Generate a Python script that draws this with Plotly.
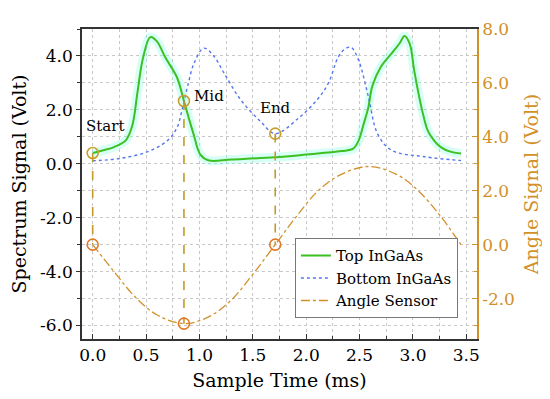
import plotly.graph_objects as go

# ---- data ----
top_t = [0.0, 0.10, 0.20, 0.31, 0.37, 0.42, 0.47, 0.54, 0.60, 0.68, 0.79, 0.855, 0.90, 0.945, 1.01, 1.09, 1.30, 1.71, 2.00, 2.33, 2.44, 2.49, 2.54, 2.58, 2.62, 2.70, 2.81, 2.88, 2.92, 2.97, 3.01, 3.05, 3.10, 3.14, 3.20, 3.26, 3.35, 3.45]
top_v = [0.40, 0.50, 0.62, 0.87, 1.40, 2.66, 3.90, 4.70, 4.55, 3.95, 3.20, 2.33, 1.70, 1.10, 0.33, 0.12, 0.16, 0.24, 0.34, 0.47, 0.56, 0.85, 1.50, 2.05, 2.89, 3.60, 4.14, 4.50, 4.74, 4.45, 3.50, 2.65, 1.75, 1.22, 0.85, 0.62, 0.45, 0.38]

bot_t = [0.0, 0.26, 0.51, 0.70, 0.79, 0.84, 0.89, 0.95, 1.04, 1.13, 1.23, 1.38, 1.57, 1.71, 1.93, 2.11, 2.21, 2.30, 2.36, 2.42, 2.49, 2.58, 2.67, 2.80, 3.11, 3.45]
bot_v = [0.11, 0.20, 0.44, 0.86, 1.34, 2.05, 2.89, 3.73, 4.29, 4.02, 3.37, 2.41, 1.58, 1.12, 1.70, 2.41, 3.01, 3.96, 4.25, 4.32, 3.85, 2.53, 1.10, 0.50, 0.26, 0.12]

ang_t = [0.0, 0.2, 0.4, 0.6, 0.86, 1.1, 1.3, 1.5, 1.71, 1.9, 2.1, 2.3, 2.58, 2.85, 3.05, 3.25, 3.45]
ang_v = [0.0, -1.0, -1.95, -2.6, -2.93, -2.65, -2.05, -1.1, 0.0, 1.0, 1.95, 2.55, 2.90, 2.60, 2.00, 1.10, 0.0]

evt_names = ["Start", "Mid", "End"]
evt_t = [0.0, 0.855, 1.71]
evt_spec = [0.40, 2.33, 1.12]
evt_ang = [0.0, -2.93, 0.0]

x_ticks = [0.0, 0.5, 1.0, 1.5, 2.0, 2.5, 3.0, 3.5]
y1_ticks = [-6.0, -4.0, -2.0, 0.0, 2.0, 4.0]
y2_ticks = [-2.0, 0.0, 2.0, 4.0, 6.0, 8.0]
x_range = [-0.1, 3.6]
y1_range = [-6.5, 5.0]
y2_range = [-3.5, 8.0]

GREEN = "#3DC022"
BLUE = "#5577EE"
ORANGE = "#D2902A"
MARK = "#E07A2A"
VLINE = "#C49A2A"
FONT = "DejaVu Serif"

fig = go.Figure()

# halo under the green curve
fig.add_trace(go.Scatter(x=top_t, y=top_v, mode="lines", line=dict(color="rgba(140,255,225,0.35)", width=9, shape="spline"),
                         showlegend=False, hoverinfo="skip"))
fig.add_trace(go.Scatter(x=top_t, y=top_v, mode="lines", name="Top InGaAs",
                         line=dict(color=GREEN, width=2, shape="spline")))
fig.add_trace(go.Scatter(x=bot_t, y=bot_v, mode="lines", name="Bottom InGaAs",
                         line=dict(color=BLUE, width=1.4, dash="dot", shape="spline")))
fig.add_trace(go.Scatter(x=ang_t, y=ang_v, mode="lines", name="Angle Sensor", yaxis="y2",
                         line=dict(color=ORANGE, width=1.3, dash="dashdot", shape="spline")))

# vertical dashed connectors (drawn on y2: convert spectrum values by the axis offset)
offset = y2_range[0] - y1_range[0]
for t, s, a in zip(evt_t, evt_spec, evt_ang):
    fig.add_trace(go.Scatter(x=[t, t], y=[s + offset, a], mode="lines", yaxis="y2",
                             line=dict(color=VLINE, width=1.6, dash="dash"), showlegend=False, hoverinfo="skip"))

fig.add_trace(go.Scatter(x=evt_t, y=evt_spec, mode="markers", showlegend=False,
                         marker=dict(symbol="circle-open", size=11, color="#C8A030", line=dict(width=1.6))))
fig.add_trace(go.Scatter(x=evt_t, y=evt_ang, mode="markers", yaxis="y2", showlegend=False,
                         marker=dict(symbol="circle-open", size=11, color=MARK, line=dict(width=1.6))))

shifts = [(12, 27, "center"), (8, 5, "left"), (0, 26, "center")]
for name, t, s, (dx, dy, anc) in zip(evt_names, evt_t, evt_spec, shifts):
    fig.add_annotation(x=t, y=s, text=name, showarrow=False, xshift=dx, yshift=dy, xanchor=anc,
                       font=dict(family=FONT, size=15, color="black"))

fig.update_layout(
    width=550, height=399,
    margin=dict(l=72, r=81, t=11, b=68),
    paper_bgcolor="white", plot_bgcolor="white",
    font=dict(family=FONT, size=17, color="black"),
    showlegend=True,
    legend=dict(x=0.539, y=0.325, xanchor="left", yanchor="top", bgcolor="white",
                bordercolor="#777777", borderwidth=1, font=dict(family=FONT, size=15),
                tracegroupgap=0, itemwidth=30),
    xaxis=dict(range=x_range, tickvals=x_ticks, ticktext=[f"{v:.1f}" for v in x_ticks],
               title=dict(text="Sample Time (ms)", font=dict(size=19), standoff=10),
               showline=True, linecolor="#333333", linewidth=1.5, mirror=True,
               ticks="inside", ticklen=5, tickcolor="#333333",
               showgrid=True, gridcolor="#C8C8C8", griddash="dot", gridwidth=1,
               minor=dict(dtick=0.25, tick0=0, showgrid=True, gridcolor="#C8C8C8", griddash="dot",
                          ticks="inside", ticklen=3, tickcolor="#333333"),
               zeroline=False, tickfont=dict(size=17)),
    yaxis=dict(range=y1_range, tickvals=y1_ticks, ticktext=[f"{v:.1f}" for v in y1_ticks],
               title=dict(text="Spectrum Signal (Volt)", font=dict(size=19), standoff=8),
               showline=True, linecolor="#333333", linewidth=1.5,
               ticks="outside", ticklen=4, tickcolor="#333333",
               showgrid=True, gridcolor="#C8C8C8", griddash="dot", gridwidth=1,
               minor=dict(dtick=1, tick0=0, showgrid=True, gridcolor="#C8C8C8", griddash="dot",
                          ticks="outside", ticklen=3, tickcolor="#333333"),
               zeroline=False, tickfont=dict(size=17)),
    yaxis2=dict(range=y2_range, tickvals=y2_ticks, ticktext=[f"{v:.1f}" for v in y2_ticks],
                overlaying="y", side="right",
                title=dict(text="Angle Signal (Volt)", font=dict(size=19, color=ORANGE), standoff=11),
                showline=True, linecolor=ORANGE, linewidth=1.5,
                ticks="inside", ticklen=5, tickcolor=ORANGE,
                minor=dict(dtick=1, tick0=0, ticks="inside", ticklen=3, tickcolor=ORANGE),
                showgrid=False, zeroline=False, tickfont=dict(size=17, color=ORANGE)),
)

fig.write_html("out.html")
